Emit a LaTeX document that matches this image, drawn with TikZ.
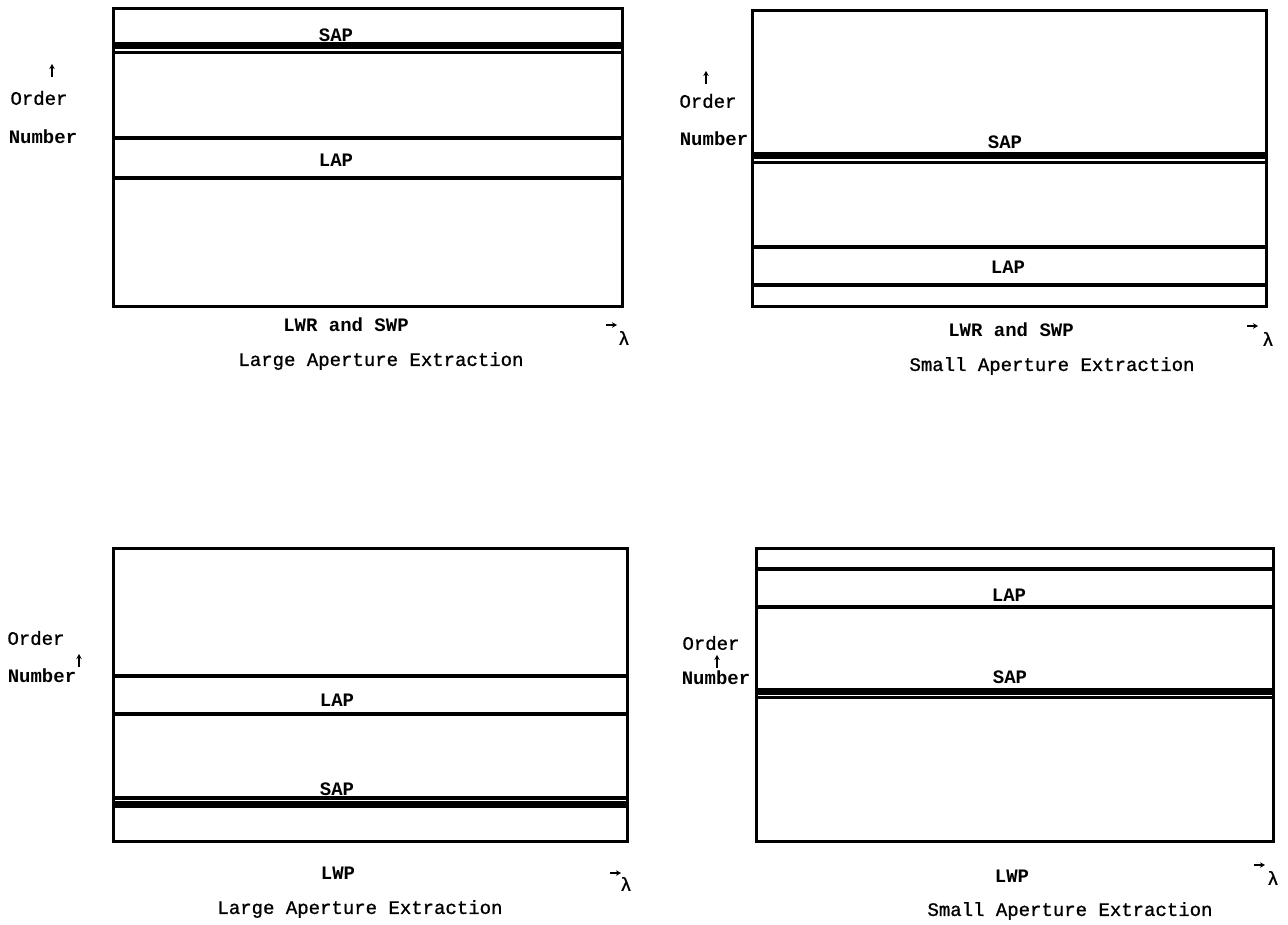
\documentclass[tikz,border=0pt]{standalone}
\usepackage{fontspec}
\setmonofont{Liberation Mono}
\newfontfamily\medmono{Liberation Mono}[FakeBold=1]
\usetikzlibrary{arrows.meta}
\begin{document}
\begin{tikzpicture}[x=1pt,y=-1pt,
  frame/.style={line width=3pt},
  band/.style={line width=3.8pt},
  thinband/.style={line width=3.5pt},
  heavy/.style={line width=7pt},
  lbl/.style={font=\fontsize{19}{20}\selectfont\ttfamily\bfseries, inner sep=0pt},
  captxt/.style={font=\fontsize{19}{20}\selectfont\medmono, inner sep=0pt},
  tip/.style={-{Stealth[length=5pt,width=5.5pt]}, line width=1.5pt},
]
\useasboundingbox (0,0) rectangle (1288,925);

% ---------- top-left panel ----------
\draw[frame] (113,9) rectangle (622,307);
\draw[heavy] (113,46) -- (622,46);
\draw[thinband]  (113,52.5) -- (622,52.5);
\draw[band]  (113,138) -- (622,138);
\draw[band]  (113,178) -- (622,178);
\node[lbl] (tlsap) at (336,35) {SAP};
\node[lbl] (tllap) at (336,160) {LAP};
\node[lbl] (tlx) at (346,325) {LWR and SWP};
\node[captxt] (tlt) at (381,361) {Large Aperture Extraction};
\node[captxt] (tlo) at (39,98) {Order};
\node[lbl] (tln) at (43,137) {Number};
\draw[tip] (52,77) -- (52,64);
\draw[tip] (606,325) -- (617,325);
\node[captxt] (tll) at (624,338) {λ};

% ---------- top-right panel ----------
\draw[frame] (752,11) rectangle (1266,307);
\draw[heavy] (752,156) -- (1266,156);
\draw[thinband]  (752,162.5) -- (1266,162.5);
\draw[band]  (752,247) -- (1266,247);
\draw[band]  (752,285) -- (1266,285);
\node[lbl] (trsap) at (1005,142) {SAP};
\node[lbl] (trlap) at (1008,267) {LAP};
\node[lbl] (trx) at (1011,330) {LWR and SWP};
\node[captxt] (trt) at (1052,366) {Small Aperture Extraction};
\node[captxt] (tro) at (708,101) {Order};
\node[lbl] (trn) at (714,139) {Number};
\draw[tip] (706,84) -- (706,71);
\draw[tip] (1247,326) -- (1258,326);
\node[captxt] (trl) at (1268,339) {λ};

% ---------- bottom-left panel ----------
\draw[frame] (113,548) rectangle (627,841);
\draw[band]  (113,676) -- (627,676);
\draw[band]  (113,714) -- (627,714);
\draw[thinband]  (113,798) -- (627,798);
\draw[heavy] (113,804.5) -- (627,804.5);
\node[lbl] (blsap) at (337,789) {SAP};
\node[lbl] (bllap) at (337,700) {LAP};
\node[lbl] (blx) at (338,873) {LWP};
\node[captxt] (blt) at (360,909) {Large Aperture Extraction};
\node[captxt] (blo) at (36,638) {Order};
\node[lbl] (bln) at (42,676) {Number};
\draw[tip] (79,667) -- (79,654);
\draw[tip] (610,873) -- (621,873);
\node[captxt] (bll) at (626,884) {λ};

% ---------- bottom-right panel ----------
\draw[frame] (756,548) rectangle (1273,841);
\draw[band]  (756,569) -- (1273,569);
\draw[band]  (756,607) -- (1273,607);
\draw[heavy] (756,691) -- (1273,691);
\draw[thinband]  (756,697.5) -- (1273,697.5);
\node[lbl] (brsap) at (1010,677) {SAP};
\node[lbl] (brlap) at (1009,595) {LAP};
\node[lbl] (brx) at (1012,876) {LWP};
\node[captxt] (brt) at (1070,911) {Small Aperture Extraction};
\node[captxt] (bro) at (711,643) {Order};
\node[lbl] (brn) at (716,678) {Number};
\draw[tip] (717,668) -- (717,655);
\draw[tip] (1254,865) -- (1265,865);
\node[captxt] (brl) at (1273,878) {λ};
\end{tikzpicture}
\end{document}
